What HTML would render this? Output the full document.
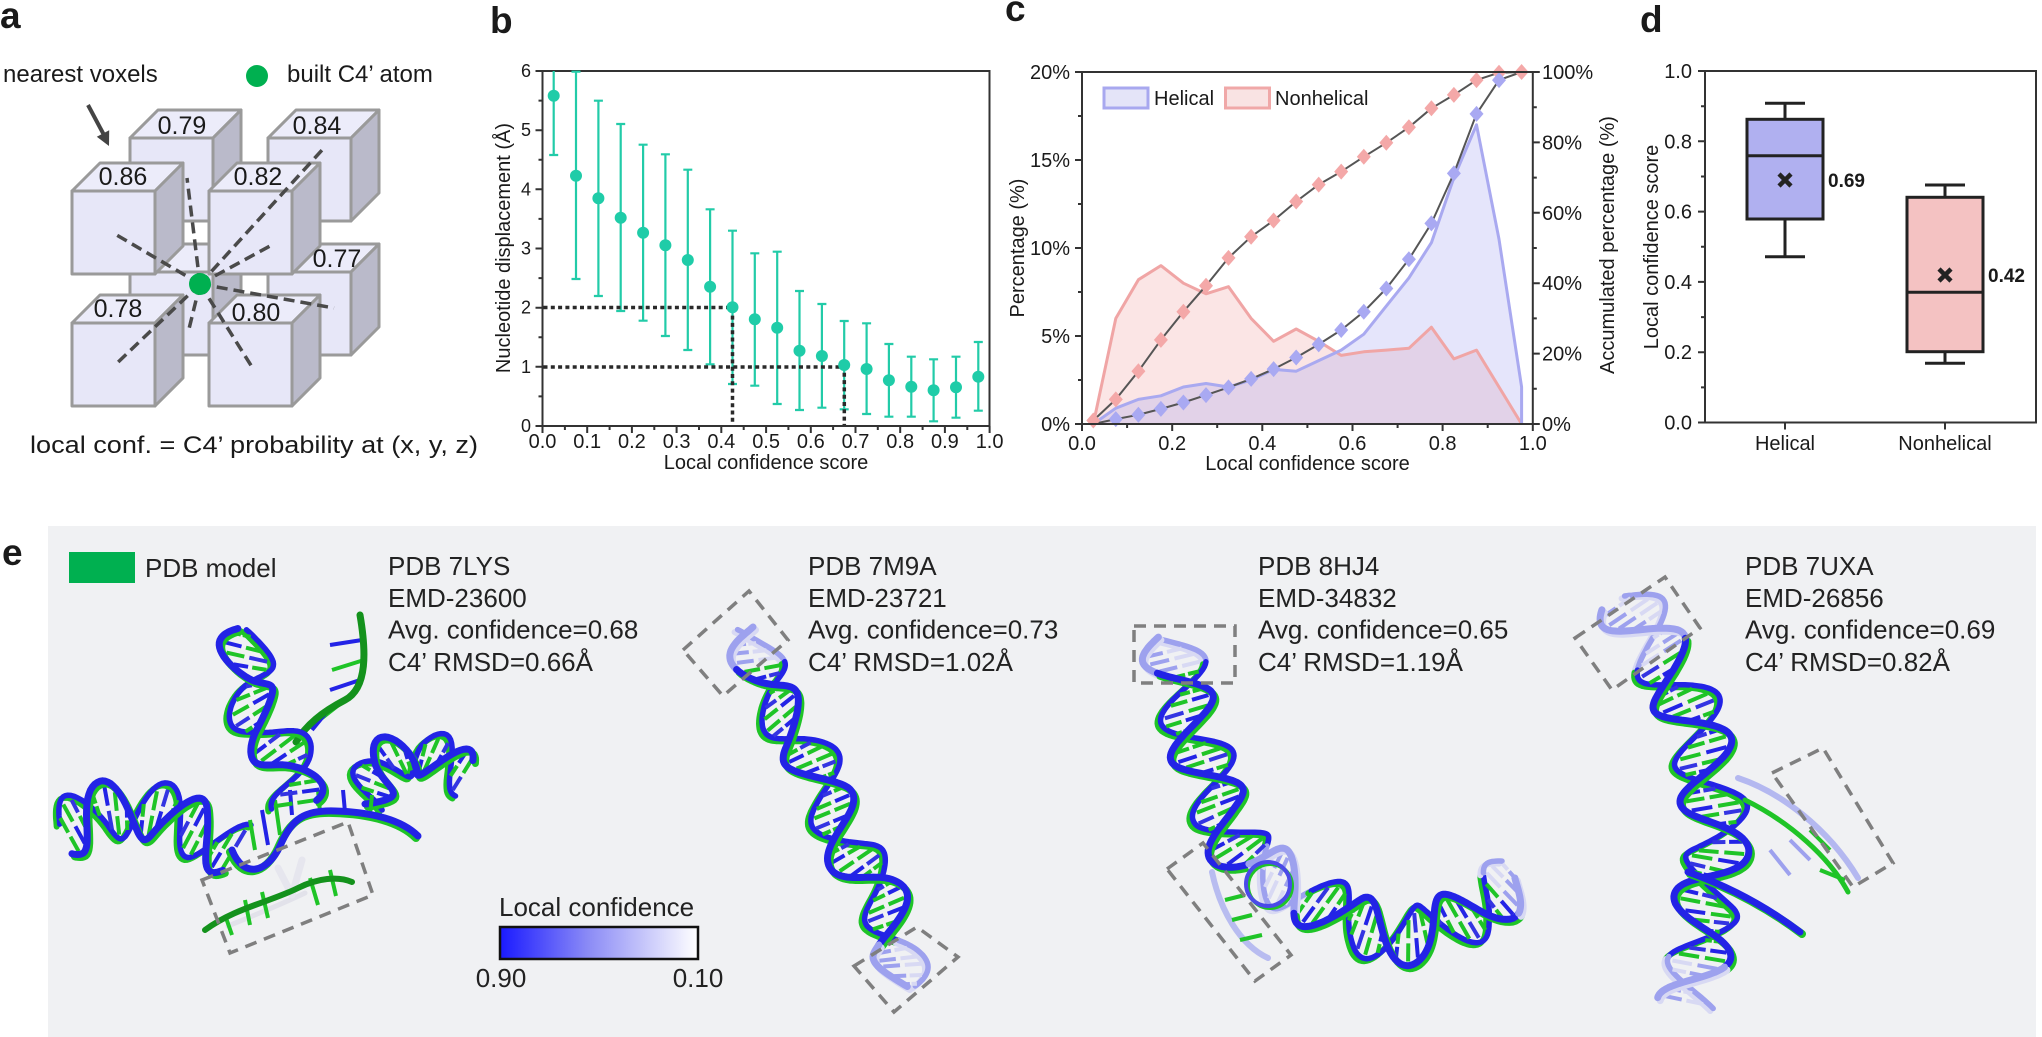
<!DOCTYPE html>
<html><head><meta charset="utf-8">
<style>
html,body{margin:0;padding:0;background:#fff;}
svg{display:block;font-family:"Liberation Sans",Arial,sans-serif;}
</style></head><body>
<svg id="root" width="2042" height="1037" viewBox="0 0 2042 1037" xmlns="http://www.w3.org/2000/svg">
<defs>
<path id="dm" d="M0,-8 L7,0 L0,8 L-7,0Z"/>
<linearGradient id="cb" x1="0" y1="0" x2="1" y2="0">
<stop offset="0" stop-color="#1a1aff"/><stop offset="0.45" stop-color="#8c8cf6"/><stop offset="1" stop-color="#ffffff"/>
</linearGradient>
</defs>
<rect x="0" y="0" width="2042" height="1037" fill="#fff"/>

<!-- ============ panel labels ============ -->
<g font-weight="bold" font-size="37" fill="#1a1a1a">
<text x="0" y="28">a</text>
<text x="490" y="33">b</text>
<text x="1005" y="21">c</text>
<text x="1640" y="32">d</text>
<text x="2" y="565">e</text>
</g>

<!-- ============ panel a ============ -->
<g fill="#1a1a1a">
<text x="3" y="82" font-size="24">nearest voxels</text>
<circle cx="257" cy="76" r="11" fill="#00b050"/>
<text x="287" y="82" font-size="24">built C4’ atom</text>
<line x1="88" y1="105" x2="104" y2="135" stroke="#444" stroke-width="4"/>
<polygon points="109,146 109.2,130.2 96.8,136.8" fill="#444"/>
</g>
<g stroke="#9a9a9a" stroke-width="3" stroke-linejoin="round">
<rect x="130" y="138" width="83" height="83" fill="#e7e7f8"/>
<polygon points="130,138 213,138 241,110 158,110" fill="#ececfa"/>
<polygon points="213,138 241,110 241,193 213,221" fill="#babaca"/>
<rect x="268" y="138" width="83" height="83" fill="#e7e7f8"/>
<polygon points="268,138 351,138 379,110 296,110" fill="#ececfa"/>
<polygon points="351,138 379,110 379,193 351,221" fill="#babaca"/>
<rect x="130" y="272" width="83" height="83" fill="#e7e7f8"/>
<polygon points="130,272 213,272 241,244 158,244" fill="#ececfa"/>
<polygon points="213,272 241,244 241,327 213,355" fill="#babaca"/>
<rect x="268" y="272" width="83" height="83" fill="#e7e7f8"/>
<polygon points="268,272 351,272 379,244 296,244" fill="#ececfa"/>
<polygon points="351,272 379,244 379,327 351,355" fill="#babaca"/>
<rect x="72" y="191" width="83" height="83" fill="#e7e7f8"/>
<polygon points="72,191 155,191 183,163 100,163" fill="#ececfa"/>
<polygon points="155,191 183,163 183,246 155,274" fill="#babaca"/>
<rect x="209" y="191" width="83" height="83" fill="#e7e7f8"/>
<polygon points="209,191 292,191 320,163 237,163" fill="#ececfa"/>
<polygon points="292,191 320,163 320,246 292,274" fill="#babaca"/>
<rect x="72" y="323" width="83" height="83" fill="#e7e7f8"/>
<polygon points="72,323 155,323 183,295 100,295" fill="#ececfa"/>
<polygon points="155,323 183,295 183,378 155,406" fill="#babaca"/>
<rect x="209" y="323" width="83" height="83" fill="#e7e7f8"/>
<polygon points="209,323 292,323 320,295 237,295" fill="#ececfa"/>
<polygon points="292,323 320,295 320,378 292,406" fill="#babaca"/>
</g>
<g font-size="25" fill="#1a1a1a" text-anchor="middle">
<text x="182" y="134">0.79</text>
<text x="317" y="134">0.84</text>
<text x="123" y="185">0.86</text>
<text x="258" y="185">0.82</text>
<text x="337" y="267">0.77</text>
<text x="118" y="317">0.78</text>
<text x="256" y="321">0.80</text>
</g>
<g stroke="#4a4a4a" stroke-width="3.5" stroke-dasharray="11 6" fill="none">
<line x1="200" y1="284" x2="115" y2="234"/>
<line x1="200" y1="284" x2="187" y2="178"/>
<line x1="200" y1="284" x2="323" y2="149"/>
<line x1="200" y1="284" x2="270" y2="246"/>
<line x1="200" y1="284" x2="334" y2="308"/>
<line x1="200" y1="284" x2="252" y2="367"/>
<line x1="200" y1="284" x2="188" y2="333"/>
<line x1="200" y1="284" x2="114" y2="366"/>
</g>
<circle cx="200" cy="284" r="11" fill="#00b050"/>
<text x="30" y="453" font-size="24" fill="#1a1a1a" textLength="448" lengthAdjust="spacingAndGlyphs">local conf. = C4’ probability at (x,  y,  z)</text>

<!-- ============ panel b ============ -->
<g stroke="#333" stroke-width="2" fill="none">
<rect x="542.5" y="71" width="447" height="355"/>
<path d="M535.5,426H542.5 M535.5,366.8H542.5 M535.5,307.7H542.5 M535.5,248.5H542.5 M535.5,189.3H542.5 M535.5,130.2H542.5 M535.5,71H542.5
M538.5,396.4H542.5 M538.5,337.3H542.5 M538.5,278.1H542.5 M538.5,218.9H542.5 M538.5,159.8H542.5 M538.5,100.6H542.5"/>
<path d="M542.5,426V433 M587.2,426V433 M631.9,426V433 M676.6,426V433 M721.3,426V433 M766.1,426V433 M810.8,426V433 M855.5,426V433 M900.2,426V433 M944.9,426V433 M989.6,426V433
M564.9,426V430 M609.6,426V430 M654.3,426V430 M699,426V430 M743.7,426V430 M788.4,426V430 M833.1,426V430 M877.8,426V430 M922.6,426V430 M967.3,426V430"/>
</g>
<g font-size="18" fill="#1a1a1a" text-anchor="end">
<text x="531" y="432">0</text><text x="531" y="372.8">1</text><text x="531" y="313.7">2</text><text x="531" y="254.5">3</text><text x="531" y="195.3">4</text><text x="531" y="136.2">5</text><text x="531" y="77">6</text>
</g>
<g font-size="20" fill="#1a1a1a" text-anchor="middle">
<text x="542.5" y="448">0.0</text><text x="587.2" y="448">0.1</text><text x="631.9" y="448">0.2</text><text x="676.6" y="448">0.3</text><text x="721.3" y="448">0.4</text><text x="766.1" y="448">0.5</text><text x="810.8" y="448">0.6</text><text x="855.5" y="448">0.7</text><text x="900.2" y="448">0.8</text><text x="944.9" y="448">0.9</text><text x="989.6" y="448">1.0</text>
<text x="766" y="469">Local confidence score</text>
<text transform="translate(510,248) rotate(-90)">Nucleotide displacement (Å)</text>
</g>
<path stroke="#22cba8" stroke-width="2.2" fill="none" d="M553.7,71V155 M549.2,155H558.2
M576,71.7V279 M571.5,71.7H580.5 M571.5,279H580.5
M598.4,100.7V296 M593.9,100.7H602.9 M593.9,296H602.9
M620.7,124V311 M616.2,124H625.2 M616.2,311H625.2
M643.1,144.7V320.7 M638.6,144.7H647.6 M638.6,320.7H647.6
M665.4,154.3V336 M660.9,154.3H669.9 M660.9,336H669.9
M687.8,169.7V350 M683.3,169.7H692.3 M683.3,350H692.3
M710.1,209.3V364.3 M705.6,209.3H714.6 M705.6,364.3H714.6
M732.5,230.7V384 M728,230.7H737 M728,384H737
M754.8,253.3V385.7 M750.3,253.3H759.3 M750.3,385.7H759.3
M777.2,251.7V404 M772.7,251.7H781.7 M772.7,404H781.7
M799.5,291V410 M795,291H804 M795,410H804
M821.9,304V407.7 M817.4,304H826.4 M817.4,407.7H826.4
M844.2,321V409.3 M839.7,321H848.7 M839.7,409.3H848.7
M866.6,323.3V414 M862.1,323.3H871.1 M862.1,414H871.1
M888.9,344V416.7 M884.4,344H893.4 M884.4,416.7H893.4
M911.3,356.7V416.7 M906.8,356.7H915.8 M906.8,416.7H915.8
M933.6,359.3V421.3 M929.1,359.3H938.1 M929.1,421.3H938.1
M956,356.7V417.7 M951.5,356.7H960.5 M951.5,417.7H960.5
M978.3,342V410.7 M973.8,342H982.8 M973.8,410.7H982.8"/>
<g stroke="#2a2a2a" stroke-width="3.5" stroke-dasharray="4 3.3" fill="none">
<path d="M543.5,307.5H732.5V425"/>
<path d="M543.5,367H844.3V425"/>
</g>
<g fill="#1fcca8">
<circle cx="553.7" cy="95.7" r="6"/><circle cx="576" cy="175.7" r="6"/><circle cx="598.4" cy="198.3" r="6"/><circle cx="620.7" cy="217.7" r="6"/><circle cx="643.1" cy="232.7" r="6"/><circle cx="665.4" cy="245.3" r="6"/><circle cx="687.8" cy="260" r="6"/><circle cx="710.1" cy="286.7" r="6"/><circle cx="732.5" cy="307.3" r="6"/><circle cx="754.8" cy="319.3" r="6"/><circle cx="777.2" cy="327.7" r="6"/><circle cx="799.5" cy="350.7" r="6"/><circle cx="821.9" cy="356" r="6"/><circle cx="844.2" cy="365" r="6"/><circle cx="866.6" cy="369" r="6"/><circle cx="888.9" cy="380.3" r="6"/><circle cx="911.3" cy="386.7" r="6"/><circle cx="933.6" cy="390.3" r="6"/><circle cx="956" cy="387.3" r="6"/><circle cx="978.3" cy="376.7" r="6"/>
</g>

<!-- ============ panel c ============ -->
<polygon fill="#f2a0a0" fill-opacity="0.27" points="1093.3,424 1115.8,318.4 1138.4,279.7 1160.9,265.6 1183.4,283.2 1206.0,293.8 1228.5,286.7 1251.1,318.4 1273.6,341.3 1296.2,329.0 1318.7,341.3 1341.2,355.4 1363.8,351.8 1386.3,350.1 1408.9,348.3 1431.4,327.2 1453.9,358.9 1476.5,350.1 1499.0,387.0 1521.6,424"/>
<polygon fill="#a0a0f0" fill-opacity="0.28" points="1093.3,424 1115.8,408.2 1138.4,399.4 1160.9,395.8 1183.4,387.0 1206.0,383.5 1228.5,387.0 1251.1,380.0 1273.6,369.4 1296.2,371.2 1318.7,360.6 1341.2,350.1 1363.8,334.2 1386.3,306.1 1408.9,277.9 1431.4,242.7 1453.9,177.6 1476.5,124.8 1499.0,239.2 1521.6,387.0 1521.6,424"/>
<polyline fill="none" stroke="#f0a5a5" stroke-width="3" stroke-linejoin="round" points="1093.3,424 1115.8,318.4 1138.4,279.7 1160.9,265.6 1183.4,283.2 1206.0,293.8 1228.5,286.7 1251.1,318.4 1273.6,341.3 1296.2,329.0 1318.7,341.3 1341.2,355.4 1363.8,351.8 1386.3,350.1 1408.9,348.3 1431.4,327.2 1453.9,358.9 1476.5,350.1 1499.0,387.0 1521.6,424"/>
<polyline fill="none" stroke="#a9a9f0" stroke-width="3" stroke-linejoin="round" points="1093.3,424 1115.8,408.2 1138.4,399.4 1160.9,395.8 1183.4,387.0 1206.0,383.5 1228.5,387.0 1251.1,380.0 1273.6,369.4 1296.2,371.2 1318.7,360.6 1341.2,350.1 1363.8,334.2 1386.3,306.1 1408.9,277.9 1431.4,242.7 1453.9,177.6 1476.5,124.8 1499.0,239.2 1521.6,387.0 1521.6,424"/>
<polyline fill="none" stroke="#555" stroke-width="2" stroke-linejoin="round" points="1093.3,420.5 1115.8,399.4 1138.4,371.2 1160.9,339.9 1183.4,311.7 1206.0,285.7 1228.5,257.9 1251.1,236.7 1273.6,220.5 1296.2,201.5 1318.7,184.6 1341.2,171.6 1363.8,156.8 1386.3,142.8 1408.9,127.3 1431.4,108.3 1453.9,94.9 1476.5,80.1 1499.0,72.7 1521.6,72"/>
<polyline fill="none" stroke="#555" stroke-width="2" stroke-linejoin="round" points="1093.3,424 1115.8,419.1 1138.4,414.8 1160.9,408.9 1183.4,402.5 1206.0,395.1 1228.5,387.4 1251.1,378.9 1273.6,369.1 1296.2,357.5 1318.7,344.4 1341.2,330.0 1363.8,311.7 1386.3,288.5 1408.9,259.3 1431.4,223.4 1453.9,173.4 1476.5,113.9 1499.0,80.1 1521.6,72"/>
<g fill="#f4a8a8">
<use href="#dm" x="1093.3" y="420.5"/><use href="#dm" x="1115.8" y="399.4"/><use href="#dm" x="1138.4" y="371.2"/><use href="#dm" x="1160.9" y="339.9"/><use href="#dm" x="1183.4" y="311.7"/><use href="#dm" x="1206" y="285.7"/><use href="#dm" x="1228.5" y="257.9"/><use href="#dm" x="1251.1" y="236.7"/><use href="#dm" x="1273.6" y="220.5"/><use href="#dm" x="1296.2" y="201.5"/><use href="#dm" x="1318.7" y="184.6"/><use href="#dm" x="1341.2" y="171.6"/><use href="#dm" x="1363.8" y="156.8"/><use href="#dm" x="1386.3" y="142.8"/><use href="#dm" x="1408.9" y="127.3"/><use href="#dm" x="1431.4" y="108.3"/><use href="#dm" x="1453.9" y="94.9"/><use href="#dm" x="1476.5" y="80.1"/><use href="#dm" x="1499" y="72.7"/><use href="#dm" x="1521.6" y="72"/>
</g>
<g fill="#a9a9f2">
<use href="#dm" x="1115.8" y="419.1"/><use href="#dm" x="1138.4" y="414.8"/><use href="#dm" x="1160.9" y="408.9"/><use href="#dm" x="1183.4" y="402.5"/><use href="#dm" x="1206" y="395.1"/><use href="#dm" x="1228.5" y="387.4"/><use href="#dm" x="1251.1" y="378.9"/><use href="#dm" x="1273.6" y="369.1"/><use href="#dm" x="1296.2" y="357.5"/><use href="#dm" x="1318.7" y="344.4"/><use href="#dm" x="1341.2" y="330"/><use href="#dm" x="1363.8" y="311.7"/><use href="#dm" x="1386.3" y="288.5"/><use href="#dm" x="1408.9" y="259.3"/><use href="#dm" x="1431.4" y="223.4"/><use href="#dm" x="1453.9" y="173.4"/><use href="#dm" x="1476.5" y="113.9"/><use href="#dm" x="1499" y="80.1"/>
</g>
<g stroke="#333" stroke-width="2" fill="none">
<rect x="1082" y="72" width="450.8" height="352"/>
<path d="M1075,424H1082 M1075,336H1082 M1075,248H1082 M1075,160H1082 M1075,72H1082 M1078,380H1082 M1078,292H1082 M1078,204H1082 M1078,116H1082"/>
<path d="M1532.8,424H1539.8 M1532.8,353.6H1539.8 M1532.8,283.2H1539.8 M1532.8,212.8H1539.8 M1532.8,142.4H1539.8 M1532.8,72H1539.8 M1532.8,388.8H1536.8 M1532.8,318.4H1536.8 M1532.8,248H1536.8 M1532.8,177.6H1536.8 M1532.8,107.2H1536.8"/>
<path d="M1082,424V431 M1172.2,424V431 M1262.3,424V431 M1352.5,424V431 M1442.6,424V431 M1532.8,424V431 M1127.1,424V428 M1217.2,424V428 M1307.4,424V428 M1397.6,424V428 M1487.7,424V428"/>
</g>
<g font-size="20" fill="#1a1a1a">
<g text-anchor="end"><text x="1070" y="431">0%</text><text x="1070" y="343">5%</text><text x="1070" y="255">10%</text><text x="1070" y="167">15%</text><text x="1070" y="79">20%</text></g>
<text x="1542" y="431">0%</text><text x="1542" y="360.6">20%</text><text x="1542" y="290.2">40%</text><text x="1542" y="219.8">60%</text><text x="1542" y="149.4">80%</text><text x="1542" y="79">100%</text>
<g text-anchor="middle"><text x="1082" y="450">0.0</text><text x="1172.2" y="450">0.2</text><text x="1262.3" y="450">0.4</text><text x="1352.5" y="450">0.6</text><text x="1442.6" y="450">0.8</text><text x="1532.8" y="450">1.0</text>
<text x="1307.5" y="470">Local confidence score</text>
<text transform="translate(1024,248) rotate(-90)">Percentage (%)</text>
<text transform="translate(1614,245) rotate(-90)">Accumulated percentage (%)</text>
</g>
<rect x="1104" y="88" width="44" height="20" fill="#e4e4f8" stroke="#a8a8ef" stroke-width="3"/>
<text x="1154" y="105">Helical</text>
<rect x="1225.5" y="88" width="44" height="20" fill="#f9e3e3" stroke="#f0a8a8" stroke-width="3"/>
<text x="1275" y="105">Nonhelical</text>
</g>

<!-- ============ panel d ============ -->
<g stroke="#333" stroke-width="2" fill="none">
<rect x="1705" y="71" width="331" height="351.5"/>
<path d="M1698,422.5H1705 M1698,352.2H1705 M1698,281.9H1705 M1698,211.6H1705 M1698,141.3H1705 M1698,71H1705 M1701,387.4H1705 M1701,317.1H1705 M1701,246.8H1705 M1701,176.5H1705 M1701,106.2H1705"/>
<path d="M1785,422.5V429.5 M1945,422.5V429.5"/>
</g>
<g font-size="20" fill="#1a1a1a">
<g text-anchor="end"><text x="1692" y="429.5">0.0</text><text x="1692" y="359.2">0.2</text><text x="1692" y="288.9">0.4</text><text x="1692" y="218.6">0.6</text><text x="1692" y="148.3">0.8</text><text x="1692" y="78">1.0</text></g>
<g text-anchor="middle"><text x="1785" y="450">Helical</text><text x="1945" y="450">Nonhelical</text>
<text transform="translate(1658,247) rotate(-90)">Local confidence score</text></g>
</g>
<g stroke="#222" stroke-width="3" fill="none">
<path d="M1785,103.3V119.3 M1785,219V256.7 M1765,103.3H1805 M1765,256.7H1805"/>
<rect x="1747" y="119.3" width="76" height="99.7" fill="#b0b0f0"/>
<path d="M1747,155.7H1823"/>
<path d="M1945,185V197.3 M1945,351.7V363.3 M1925,185H1965 M1925,363.3H1965"/>
<rect x="1907" y="197.3" width="76" height="154.4" fill="#f4c2c2"/>
<path d="M1907,292.3H1983"/>
<path stroke-width="4.5" d="M1779,174L1791,186 M1791,174L1779,186 M1939,269L1951,281 M1951,269L1939,281"/>
</g>
<g font-size="19" font-weight="bold" fill="#1a1a1a">
<text x="1828" y="187">0.69</text>
<text x="1988" y="282">0.42</text>
</g>

<!-- ============ panel e ============ -->
<rect x="48" y="526" width="1988" height="511" fill="#f0f1f3"/>
<rect x="69" y="552" width="66" height="31" fill="#00b050"/>
<g font-size="26" fill="#222">
<text x="145" y="577">PDB model</text>
<text x="388" y="575">PDB 7LYS</text><text x="388" y="607">EMD-23600</text><text x="388" y="638.5">Avg. confidence=0.68</text><text x="388" y="671">C4’ RMSD=0.66Å</text>
<text x="808" y="575">PDB 7M9A</text><text x="808" y="607">EMD-23721</text><text x="808" y="638.5">Avg. confidence=0.73</text><text x="808" y="671">C4’ RMSD=1.02Å</text>
<text x="1258" y="575">PDB 8HJ4</text><text x="1258" y="607">EMD-34832</text><text x="1258" y="638.5">Avg. confidence=0.65</text><text x="1258" y="671">C4’ RMSD=1.19Å</text>
<text x="1745" y="575">PDB 7UXA</text><text x="1745" y="607">EMD-26856</text><text x="1745" y="638.5">Avg. confidence=0.69</text><text x="1745" y="671">C4’ RMSD=0.82Å</text>
<text x="499" y="916">Local confidence</text>
<text x="501" y="987" text-anchor="middle">0.90</text>
<text x="698" y="987" text-anchor="middle">0.10</text>
</g>
<rect x="500" y="927" width="198" height="32" fill="url(#cb)" stroke="#111" stroke-width="2.5"/>

<g id="mol"></g>

<g stroke="#7f7f7f" stroke-width="3.5" stroke-dasharray="12 8" fill="none">
<polygon points="202,880 348,822 373,895 230,953"/>
<polygon points="683,650 749,591 788,640 723,696"/>
<polygon points="854,966 917,927 958,957 894,1012"/>
<rect x="1134" y="626" width="101" height="57"/>
<polygon points="1167,869 1203,843 1291,955 1255,981"/>
<polygon points="1575,638 1665,577 1700,628 1612,690"/>
<polygon points="1772,773 1823,748 1893,863 1853,887"/>
</g>
</svg>
<script>
(function(){
var NS='http://www.w3.org/2000/svg';
var mol=document.getElementById('mol');
var BLUE='#2323e6', GREEN='#1fc427', DGREEN='#14921c', LB='#9da1ee', LW='#d8d9f3';
function el(tag,attrs){var e=document.createElementNS(NS,tag);for(var k in attrs)e.setAttribute(k,attrs[k]);mol.appendChild(e);return e;}
function pl(pts,col,w,dx,dy){el('polyline',{points:pts.map(function(p){return (p[0]+(dx||0)).toFixed(1)+','+(p[1]+(dy||0)).toFixed(1);}).join(' '),fill:'none',stroke:col,'stroke-width':w,'stroke-linejoin':'round','stroke-linecap':'round'});}
function path(d,col,w){el('path',{d:d,fill:'none',stroke:col,'stroke-width':w,'stroke-linecap':'round','stroke-linejoin':'round'});}
function seg(a,b,col,w){el('line',{x1:a[0].toFixed(1),y1:a[1].toFixed(1),x2:b[0].toFixed(1),y2:b[1].toFixed(1),stroke:col,'stroke-width':w||4});}
function spline(pts,step){
 var out=[];
 for(var i=0;i<pts.length-1;i++){
  var p0=pts[Math.max(0,i-1)],p1=pts[i],p2=pts[i+1],p3=pts[Math.min(pts.length-1,i+2)];
  var n=Math.max(2,Math.ceil(Math.hypot(p2[0]-p1[0],p2[1]-p1[1])/step));
  for(var k=0;k<n;k++){var t=k/n,t2=t*t,t3=t2*t;
   var f=function(a,b,c,d){return 0.5*((2*b)+(-a+c)*t+(2*a-5*b+4*c-d)*t2+(-a+3*b-3*c+d)*t3);};
   out.push([f(p0[0],p1[0],p2[0],p3[0]),f(p0[1],p1[1],p2[1],p3[1])]);}
 }
 out.push(pts[pts.length-1]);return out;
}
function helix(pts,o){
 var r=o.r,P=o.P,ph=o.ph||0,gap=o.gap||9,light=o.light||[];
 var c=spline(pts,2),s=0,A=[],B=[],S=[];
 for(var i=0;i<c.length;i++){
  var a=c[Math.max(0,i-1)],b=c[Math.min(c.length-1,i+1)];
  var tx=b[0]-a[0],ty=b[1]-a[1],L=Math.hypot(tx,ty)||1;tx/=L;ty/=L;
  var nx=-ty,ny=tx;
  if(i>0)s+=Math.hypot(c[i][0]-c[i-1][0],c[i][1]-c[i-1][1]);
  var q=2*Math.PI*s/P+ph,o1=r*Math.sin(q),o2=r*Math.sin(q+2.4);
  A.push([c[i][0]+nx*o1,c[i][1]+ny*o1]);B.push([c[i][0]+nx*o2,c[i][1]+ny*o2]);S.push(s);
 }
 function isL(v){for(var j=0;j<light.length;j++)if(v>=light[j][0]&&v<=light[j][1])return true;return false;}
 function runs(arr){var out=[],cur=[],curL=null;
  for(var i=0;i<arr.length;i++){var l=isL(S[i]);
   if(curL!==null&&l!==curL){out.push([curL,cur]);cur=[arr[i-1]];}
   curL=l;cur.push(arr[i]);}
  out.push([curL,cur]);return out;}
 runs(B).forEach(function(x){pl(x[1],x[0]?LW:GREEN,6,-2,1.5);pl(x[1],x[0]?LB:BLUE,5.5,1,-1);});
 var next=gap/2,j=0;
 for(var i=0;i<c.length;i++){if(S[i]>=next){next+=gap;j++;var a=A[i],b=B[i];var d=Math.hypot(a[0]-b[0],a[1]-b[1]);if(d<14)continue;
  var l=isL(S[i]);
  var p=(function(a,b){return function(t){return [a[0]+(b[0]-a[0])*t,a[1]+(b[1]-a[1])*t];};})(a,b);
  var c1=l?LB:(j%2?GREEN:BLUE),c2=l?LW:(j%3?GREEN:'#3434e2');
  seg(p(0.1),p(0.45),c1,4);seg(p(0.55),p(0.9),c2,4);}}
 runs(A).forEach(function(x){pl(x[1],x[0]?LW:GREEN,7,1.5,2);pl(x[1],x[0]?LB:BLUE,7,-1,-1);});
}
/* ---------- 7LYS ---------- */
helix([[62,832],[105,812],[155,812],[200,832],[235,852]],{r:30,P:85,ph:1,gap:9});
helix([[366,805],[382,768],[420,752],[466,776]],{r:24,P:72,ph:0,gap:9});
var sticks=[[[362,640],[330,645]],[[364,660],[332,670]],[[360,680],[330,690]],[[345,700],[322,718]],[[330,708],[312,730]],[[250,820],[255,850]],[[262,810],[268,845]],[[275,800],[280,835]],[[290,790],[292,815]],[[320,812],[318,790]],[[345,812],[343,790]],[[370,815],[372,795]]];
sticks.forEach(function(s,i){seg(s[0],s[1],i%2?GREEN:BLUE,4);});
path('M360,615 C366,650 368,688 345,700 C322,712 306,725 296,742',DGREEN,7);
helix([[252,632],[243,685],[265,728],[290,765],[298,805]],{r:28,P:105,ph:0.5,gap:10});
path('M230,852 C242,882 266,874 278,848 C290,820 303,812 333,813 C370,814 400,822 416,838',GREEN,8);
path('M232,850 C244,880 268,872 280,846 C292,818 305,810 335,811 C372,812 402,820 418,836',BLUE,7);
path('M228,926 C255,915 280,905 305,893','#e2e2ea',5);
path('M278,868 L292,895 L302,860','#e6e6ee',7);
[[[245,900],[250,925]],[[262,892],[268,918]],[[310,878],[318,905]],[[330,870],[336,896]],[[225,915],[232,935]]].forEach(function(s){seg(s[0],s[1],GREEN,4);});
path('M205,930 C235,908 270,902 298,888 C318,878 338,876 352,882',DGREEN,6);
/* ---------- 7M9A ---------- */
helix([[754,628],[764,688],[803,742],[827,798],[850,850],[880,895],[898,945],[902,988]],{r:26,P:112,ph:0,gap:9,light:[[0,40],[350,520]]});
/* ---------- 8HJ4 ---------- */
helix([[1168,636],[1184,700],[1203,760],[1222,815],[1250,862],[1300,890],[1355,925],[1420,936],[1480,908],[1515,878]],{r:30,P:100,ph:0.3,gap:9,light:[[0,35],[245,310],[525,700]]});
path('M1212,872 C1220,910 1240,945 1268,958','#b8bcf0',6);
[[[1225,900],[1245,895]],[[1232,920],[1252,915]],[[1240,940],[1262,935]]].forEach(function(s){seg(s[0],s[1],GREEN,4);});
el('circle',{cx:1270,cy:886,r:22,fill:'none',stroke:GREEN,'stroke-width':4});
el('circle',{cx:1268,cy:884,r:22,fill:'none',stroke:'#4a4ae8','stroke-width':4});
/* ---------- 7UXA ---------- */
helix([[1622,598],[1650,640],[1680,690],[1700,742],[1712,795],[1718,850],[1706,905],[1700,955],[1690,1005]],{r:32,P:105,ph:0.8,gap:9,light:[[0,70],[390,470]]});
path('M1738,778 C1780,792 1828,828 1858,878','#b4b8f0',6);
path('M1745,800 C1790,822 1830,858 1848,892',GREEN,5);
[[[1790,840],[1810,860]],[[1810,830],[1830,850]],[[1770,850],[1790,875]],[[1820,870],[1845,880]]].forEach(function(s,i){seg(s[0],s[1],i%2?GREEN:LB,4);});
path('M1690,874 C1724,886 1762,904 1802,934',GREEN,8);
path('M1688,872 C1722,884 1760,902 1800,932',BLUE,7);
})();
</script>
</body></html>
